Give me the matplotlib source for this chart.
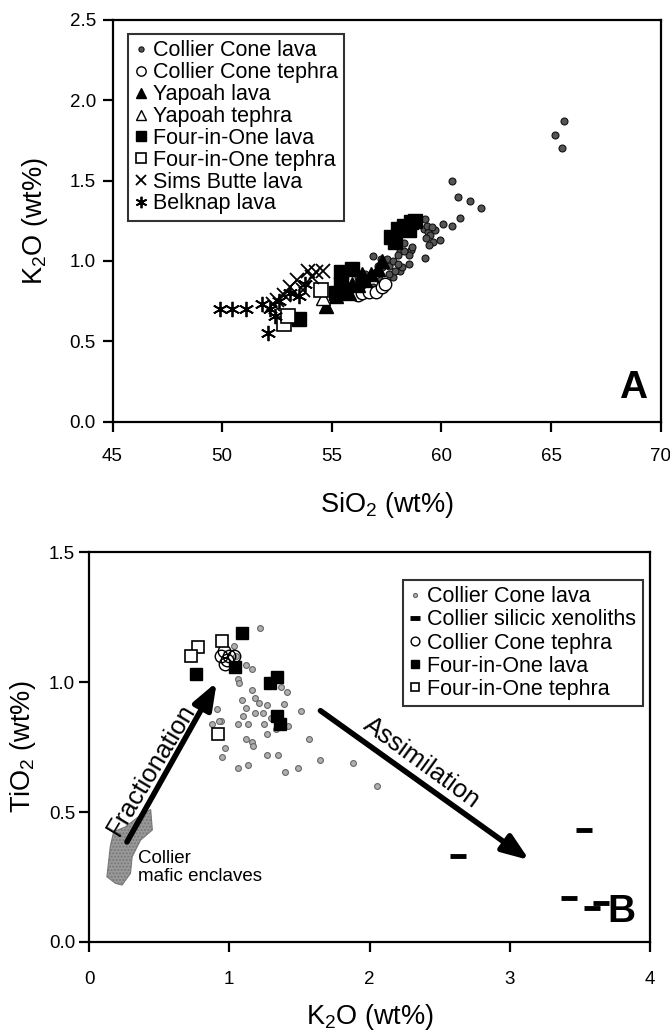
import numpy as np
import matplotlib
matplotlib.use("Agg")
import matplotlib.pyplot as plt
from matplotlib.patches import Polygon

plt.rcParams['font.family'] = ['Liberation Sans', 'DejaVu Sans']
plt.rcParams['mathtext.fontset'] = 'custom'
plt.rcParams['mathtext.rm'] = 'Liberation Sans'
plt.rcParams['mathtext.it'] = 'Liberation Sans:italic'

# ---- panel A data (SiO2, K2O) ----
cc_lava_si = [65.6, 65.2, 65.5, 60.5, 60.74, 61.3, 61.8, 60.85, 60.5, 60.06, 59.25,
              59.2, 59.4, 59.5, 59.3, 59.6, 59.45, 59.7, 59.35, 59.55,
              59.95, 59.25, 58.6, 58.5, 58.1, 58.3, 58.5, 58.1, 57.8, 57.4, 56.9, 57.5,
              57.3, 57.6, 57.9, 58.2, 58.0, 58.3, 58.67, 57.25,
              56.0, 56.3, 56.6, 56.8, 57.0, 57.1, 56.5, 55.8, 56.2, 57.2, 56.9, 57.6,
              57.8, 58.0, 55.5]
cc_lava_k = [1.87, 1.78, 1.70, 1.50, 1.40, 1.37, 1.33, 1.27, 1.22, 1.23, 1.26,
             1.20, 1.18, 1.16, 1.14, 1.12, 1.10, 1.19, 1.22, 1.21,
             1.13, 1.02, 1.07, 1.04, 1.06, 1.11, 0.98, 0.94, 0.90, 0.87, 1.03, 1.01,
             0.96, 0.92, 0.94, 0.96, 1.04, 1.06, 1.09, 1.01,
             0.82, 0.85, 0.88, 0.90, 0.93, 0.97, 0.92, 0.80, 0.90, 0.88, 0.84, 0.97,
             1.00, 0.98, 0.78]
cc_teph_si = [56.2, 56.4, 56.7, 57.0, 57.3, 57.45]
cc_teph_k = [0.79, 0.80, 0.81, 0.81, 0.84, 0.86]
yap_lava_si = [54.75, 55.5, 55.8, 56.2, 56.5, 56.8, 57.1, 55.9, 56.4, 57.3, 55.2]
yap_lava_k = [0.72, 0.82, 0.80, 0.85, 0.88, 0.92, 0.95, 0.86, 0.92, 1.00, 0.78]
yap_teph_si = [54.6]
yap_teph_k = [0.77]
fio_lava_si = [57.7, 58.0, 58.3, 58.6, 58.8, 58.5, 57.9, 55.4, 55.9, 55.4, 55.6, 55.2, 53.5]
fio_lava_k = [1.15, 1.20, 1.22, 1.24, 1.25, 1.19, 1.12, 0.93, 0.95, 0.86, 0.82, 0.80, 0.64]
fio_teph_si = [54.5, 52.8, 53.0]
fio_teph_k = [0.82, 0.61, 0.66]
sims_si = [53.9, 54.3, 54.1, 53.4, 53.1, 53.7, 52.8, 52.5, 52.3, 54.6]
sims_k = [0.94, 0.93, 0.90, 0.88, 0.84, 0.82, 0.79, 0.76, 0.73, 0.94]
belk_si = [49.9, 50.45, 51.1, 51.8, 52.2, 52.1, 52.4, 53.1, 53.5, 53.8, 52.6]
belk_k = [0.70, 0.70, 0.70, 0.73, 0.70, 0.55, 0.66, 0.80, 0.78, 0.86, 0.75]

# ---- panel B data (K2O, TiO2) ----
b_cc_lava_k = [1.22, 1.03, 1.05, 1.12, 1.16, 1.06, 1.07, 1.16, 1.18, 1.09, 1.37, 1.41,
               1.27, 1.24, 1.39, 1.51, 1.12, 1.10, 1.18, 1.06, 1.13, 1.25, 0.91, 0.88,
               0.94, 1.27, 1.42, 1.57, 1.12, 1.16, 0.97, 0.95, 1.06, 1.13, 1.27, 1.35,
               1.40, 1.49, 1.65, 1.88, 2.05, 0.93, 1.33, 1.17, 1.30, 1.21]
b_cc_lava_ti = [1.21, 1.14, 1.10, 1.065, 1.05, 1.01, 0.995, 0.97, 0.94, 0.93, 0.98, 0.96,
                0.91, 0.88, 0.915, 0.89, 0.90, 0.87, 0.88, 0.84, 0.84, 0.84, 0.895, 0.84,
                0.85, 0.80, 0.83, 0.78, 0.78, 0.77, 0.745, 0.71, 0.67, 0.68, 0.72, 0.72,
                0.655, 0.67, 0.70, 0.69, 0.60, 0.85, 0.82, 0.755, 0.86, 0.92]
b_cc_teph_k = [0.94, 0.98, 1.00, 0.97, 1.03, 0.96]
b_cc_teph_ti = [1.10, 1.085, 1.10, 1.07, 1.10, 1.12]
b_fio_lava_k = [1.09, 0.76, 1.04, 1.34, 1.29, 1.34, 1.36]
b_fio_lava_ti = [1.19, 1.03, 1.06, 1.02, 0.995, 0.87, 0.84]
b_fio_teph_k = [0.775, 0.73, 0.95, 0.92]
b_fio_teph_ti = [1.136, 1.10, 1.16, 0.80]
xeno_k = [2.63, 3.53, 3.42, 3.59, 3.65]
xeno_ti = [0.33, 0.43, 0.17, 0.13, 0.15]
enclave_k = [0.127, 0.151, 0.175, 0.259, 0.367, 0.439, 0.451, 0.367, 0.307, 0.295, 0.235, 0.187]
enclave_ti = [0.251, 0.367, 0.424, 0.443, 0.488, 0.510, 0.431, 0.392, 0.328, 0.264, 0.219, 0.226]

fig = plt.figure(figsize=(6.7, 10.34), dpi=100)
fs_tick = 13.5
fs_lab = 19.5
fs_leg = 15.5

def style(ax):
    for s in ax.spines.values():
        s.set_linewidth(1.6)
    ax.tick_params(direction='out', length=7, width=1.6, labelsize=fs_tick)

# Panel A
ax1 = fig.add_axes([0.168, 0.592, 0.818, 0.389])
ax1.plot(cc_lava_si, cc_lava_k, 'o', ms=5, mfc='#555555', mec='#111111', mew=0.8,
         ls='none', label='Collier Cone lava')
ax1.plot(cc_teph_si, cc_teph_k, 'o', ms=9, mfc='white', mec='black', mew=1.0,
         ls='none', label='Collier Cone tephra')
ax1.plot(yap_lava_si, yap_lava_k, '^', ms=10, mfc='black', mec='black',
         ls='none', label='Yapoah lava')
ax1.plot(yap_teph_si, yap_teph_k, '^', ms=10, mfc='white', mec='black', mew=1.0,
         ls='none', label='Yapoah tephra')
ax1.plot(fio_lava_si, fio_lava_k, 's', ms=9.5, mfc='black', mec='black',
         ls='none', label='Four-in-One lava')
ax1.plot(fio_teph_si, fio_teph_k, 's', ms=9.5, mfc='white', mec='black', mew=1.2,
         ls='none', label='Four-in-One tephra')
ax1.plot(sims_si, sims_k, 'x', ms=10, mec='black', mew=1.3,
         ls='none', label='Sims Butte lava')
ax1.plot(belk_si, belk_k, marker=(6, 2, 0), ms=11, mec='black', mew=1.3,
         ls='none', label='Belknap lava')
ax1.set_xlim(45, 70)
ax1.set_ylim(0, 2.5)
ax1.set_xticks([45, 50, 55, 60, 65, 70])
ax1.set_yticks([0.0, 0.5, 1.0, 1.5, 2.0, 2.5])
ax1.set_yticklabels(['0.0', '0.5', '1.0', '1.5', '2.0', '2.5'])
ax1.set_xlabel('SiO$_2$ (wt%)', fontsize=fs_lab, labelpad=18)
ax1.set_ylabel('K$_2$O (wt%)', fontsize=fs_lab, labelpad=14)
style(ax1)
ax1.tick_params(axis='x', pad=12)
ax1.tick_params(axis='y', pad=5)
leg1 = ax1.legend(loc='upper left', bbox_to_anchor=(0.02, 0.975), fontsize=fs_leg,
                  frameon=True, fancybox=False, edgecolor='black', handlelength=0.6,
                  handletextpad=0.25, labelspacing=0.04, borderpad=0.3, markerscale=0.75,
                  borderaxespad=0.2)
leg1.get_frame().set_linewidth(1.5)
ax1.text(0.975, 0.04, 'A', transform=ax1.transAxes, ha='right', va='bottom',
         fontsize=28, fontweight='bold')

# Panel B
ax2 = fig.add_axes([0.133, 0.089, 0.837, 0.377])
ax2.add_patch(Polygon(np.column_stack([enclave_k, enclave_ti]), closed=True,
                      facecolor='#9a9a9a', edgecolor='#777777', lw=0.8, hatch='.....'))
ax2.plot(b_cc_lava_k, b_cc_lava_ti, 'o', ms=4.2, mfc='#b0b0b0', mec='#666666', mew=0.8,
         ls='none', label='Collier Cone lava')
ax2.plot(xeno_k, xeno_ti, '_', ms=11, mew=3.5, color='black',
         ls='none', label='Collier silicic xenoliths')
ax2.plot(b_cc_teph_k, b_cc_teph_ti, 'o', ms=9, mfc='none', mec='black', mew=1.0,
         ls='none', label='Collier Cone tephra')
ax2.plot(b_fio_lava_k, b_fio_lava_ti, 's', ms=9, mfc='black', mec='black',
         ls='none', label='Four-in-One lava')
ax2.plot(b_fio_teph_k, b_fio_teph_ti, 's', ms=9, mfc='white', mec='black', mew=1.2,
         ls='none', label='Four-in-One tephra')
ax2.annotate('', xy=(0.91, 1.0), xytext=(0.27, 0.385),
             arrowprops=dict(arrowstyle='-|>,head_length=1.6,head_width=0.6', lw=4,
                             color='black', shrinkA=0, shrinkB=0))
ax2.annotate('', xy=(3.14, 0.315), xytext=(1.65, 0.89),
             arrowprops=dict(arrowstyle='-|>,head_length=1.6,head_width=0.6', lw=4,
                             color='black', shrinkA=0, shrinkB=0))
ax2.text(0.44, 0.665, 'Fractionation', rotation=59, fontsize=18.5, ha='center',
         va='center', rotation_mode='anchor')
ax2.text(2.37, 0.69, 'Assimilation', rotation=-36, fontsize=18.5, ha='center',
         va='center', rotation_mode='anchor')
ax2.text(0.35, 0.355, 'Collier\nmafic enclaves', fontsize=13.5, ha='left', va='top',
         linespacing=1.1)
ax2.set_xlim(0, 4)
ax2.set_ylim(0, 1.5)
ax2.set_xticks([0, 1, 2, 3, 4])
ax2.set_yticks([0.0, 0.5, 1.0, 1.5])
ax2.set_yticklabels(['0.0', '0.5', '1.0', '1.5'])
ax2.set_xlabel('K$_2$O (wt%)', fontsize=fs_lab, labelpad=10)
ax2.set_ylabel('TiO$_2$ (wt%)', fontsize=fs_lab, labelpad=8)
style(ax2)
ax2.tick_params(axis='x', pad=14)
ax2.tick_params(axis='y', pad=3)
leg2 = ax2.legend(loc='upper right', bbox_to_anchor=(0.995, 0.94), fontsize=fs_leg,
                  frameon=True, fancybox=False, edgecolor='black', handlelength=0.6,
                  handletextpad=0.25, labelspacing=0.1, borderpad=0.3, markerscale=0.7,
                  borderaxespad=0.2)
leg2.get_frame().set_linewidth(1.5)
ax2.text(0.975, 0.03, 'B', transform=ax2.transAxes, ha='right', va='bottom',
         fontsize=28, fontweight='bold')

fig.savefig('out.png', dpi=100)
